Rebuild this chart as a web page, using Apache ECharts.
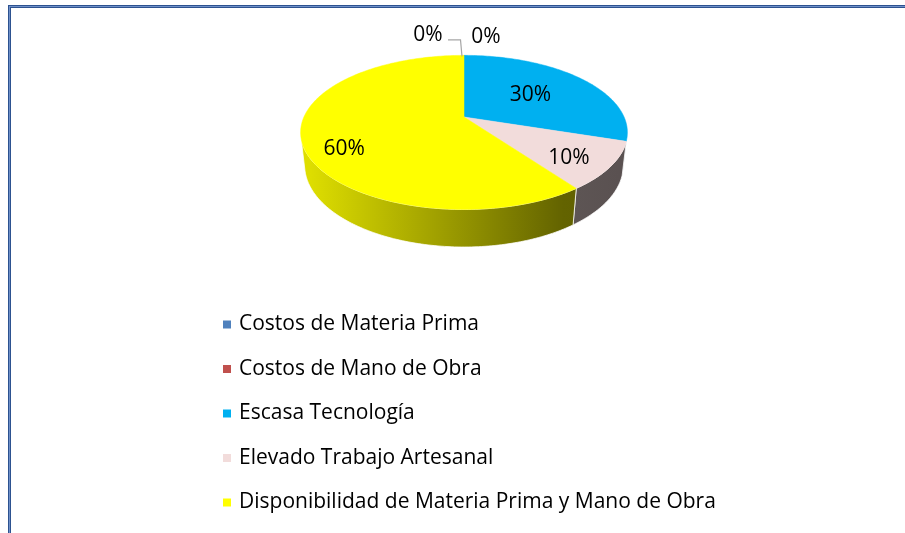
<!DOCTYPE html>
<html>
<head>
<meta charset="utf-8">
<script src="https://cdn.jsdelivr.net/npm/echarts@6/dist/echarts.min.js"></script>
<style>
  html, body { margin: 0; padding: 0; background: #ffffff; }
  #chart { position: absolute; left: 0; top: 0; width: 905px; height: 533px; }
  #frame { position: absolute; left: 8px; top: 5px; right: 0; bottom: 0;
           border-top: 3px solid #2d5290; border-left: 3px solid #2d5290; pointer-events: none; }
  #frameInner { position: absolute; left: 9px; top: 6px; right: 0; bottom: 0;
           border-top: 1px solid #6f90c8; border-left: 1px solid #6f90c8; pointer-events: none; }
</style>
</head>
<body>
<div id="chart"></div>
<div id="frame"></div>
<div id="frameInner"></div>
<script>
// Categories and their shares (percent), drawn clockwise from 12 o'clock
const categories = [
  'Costos de Materia Prima',
  'Costos de Mano de Obra',
  'Escasa Tecnología',
  'Elevado Trabajo Artesanal',
  'Disponibilidad de Materia Prima y Mano de Obra'
];
const shares = [0, 0, 30, 10, 60];

// Slice colours
const palette = ['#4f81bd', '#c0504d', '#00b0f0', '#f2dcdb', '#ffff00'];

// Label placement inside slices: fraction of the radius and a small vertical drop
const labelRadius = [0, 0, 0.545, 0.74, 0.75];
const labelDrop   = [0, 0, 0, 6, 14];
// Zero-share labels sit above the top of the disc, one on each side
const outsideShift = [[-36, -20], [22, -18]];

// Perspective view of the 3D disc
const view = { cx: 464, cy: 117, f: 710, dist: 4.435, sinT: 0.462, depth: 0.234 };
view.cosT = Math.sqrt(1 - view.sinT * view.sinT);

function project(X, Y, Z) {
  const d = view.dist - Y * view.sinT - Z * view.cosT;
  return [view.cx + view.f * X / d, view.cy + view.f * (Z * view.sinT - Y * view.cosT) / d];
}
function rim(theta, r, Y) {
  return project(r * Math.sin(theta), Y, -r * Math.cos(theta));
}
function arcPoints(a, b, r, Y) {
  const pts = [];
  const n = Math.max(2, Math.ceil(Math.abs(b - a) / (Math.PI / 180)));
  for (let k = 0; k <= n; k++) pts.push(rim(a + (b - a) * k / n, r, Y));
  return pts;
}
function shade(hex, k) {
  const v = parseInt(hex.slice(1), 16);
  const r = Math.round(((v >> 16) & 255) * k);
  const g = Math.round(((v >> 8) & 255) * k);
  const b = Math.round((v & 255) * k);
  return 'rgb(' + r + ',' + g + ',' + b + ')';
}

const total = shares.reduce((s, v) => s + v, 0);
const startAngles = [];
let acc = 0;
shares.forEach(v => { startAngles.push(acc / total * Math.PI * 2); acc += v; });

// Portion of the outer wall that faces the viewer
const wallFrom = Math.acos(-1 / (view.dist * view.cosT));
const wallTo = Math.PI * 2 - wallFrom;
const leftEdge = rim(Math.PI * 1.5 + 0.2, 1, 0)[0] - 4;
const rightEdge = rim(Math.PI * 0.5 - 0.2, 1, 0)[0] + 4;

const labelFont = '21px "Open Sans"';

function makeRender(i) {
  return function (params, api) {
    const value = api.value(0);
    const a = startAngles[i];
    const b = a + value / total * Math.PI * 2;
    const pct = Math.round(value / total * 100) + '%';
    const children = [];
    if (value > 0) {
      const top = [project(0, 0, 0)].concat(arcPoints(a, b, 1, 0));
      children.push({ type: 'polygon', z2: 10, shape: { points: top },
        style: { fill: palette[i], stroke: palette[i], lineWidth: 0.5 } });
      const s = Math.max(a, wallFrom), e = Math.min(b, wallTo);
      if (e > s) {
        const upper = arcPoints(s, e, 1, 0);
        const lower = arcPoints(e, s, 1, -view.depth);
        children.push({ type: 'polygon', z2: 5, shape: { points: upper.concat(lower) },
          style: {
            fill: { type: 'linear', x: leftEdge, y: 0, x2: rightEdge, y2: 0, global: true,
              colorStops: [
                { offset: 0, color: shade(palette[i], 0.87) },
                { offset: 0.82, color: shade(palette[i], 0.39) },
                { offset: 1, color: shade(palette[i], 0.37) }
              ] },
            stroke: 'rgba(255,255,255,0.75)', lineWidth: 1
          } });
      }
      const mid = (a + b) / 2;
      const p = rim(mid, labelRadius[i], 0);
      children.push({ type: 'text', z2: 20,
        style: { text: pct, x: p[0], y: p[1] + labelDrop[i], fill: '#000', font: labelFont,
                 align: 'center', verticalAlign: 'middle', textAlign: 'center', textVerticalAlign: 'middle' } });
    } else {
      const zeroIdx = shares.slice(0, i).filter(v => v === 0).length;
      const anchor = rim(a, 1, 0);
      const sh = outsideShift[zeroIdx % 2];
      const lx = anchor[0] + sh[0], ly = anchor[1] + sh[1];
      children.push({ type: 'text', z2: 20,
        style: { text: pct, x: lx, y: ly, fill: '#000', font: labelFont,
                 align: 'center', verticalAlign: 'middle', textAlign: 'center', textVerticalAlign: 'middle' } });
      if (zeroIdx === 0) {
        children.push({ type: 'polyline', z2: 15,
          shape: { points: [[lx + 20, ly + 4.5], [anchor[0] - 3.5, ly + 4.5], [anchor[0] - 2, anchor[1] + 1]] },
          style: { stroke: '#a6a6a6', lineWidth: 1.2, fill: null } });
      }
    }
    return { type: 'group', children: children };
  };
}

const series = categories.map((name, i) => ({
  type: 'custom',
  name: name,
  coordinateSystem: 'none',
  itemStyle: { color: palette[i] },
  renderItem: makeRender(i),
  data: [[shares[i]]],
  silent: true
}));

const chart = echarts.init(document.getElementById('chart'), null, { renderer: 'canvas' });
chart.setOption({
  animation: false,
  backgroundColor: '#ffffff',
  legend: {
    orient: 'vertical',
    left: 218,
    top: 309,
    icon: 'rect',
    itemWidth: 8,
    itemHeight: 8,
    itemGap: 23.5,
    selectedMode: false,
    textStyle: { fontFamily: 'Open Sans', fontSize: 21, color: '#000', lineHeight: 21, padding: [0, 0, 0, 3] },
    data: categories
  },
  series: series
});
</script>
</body>
</html>
